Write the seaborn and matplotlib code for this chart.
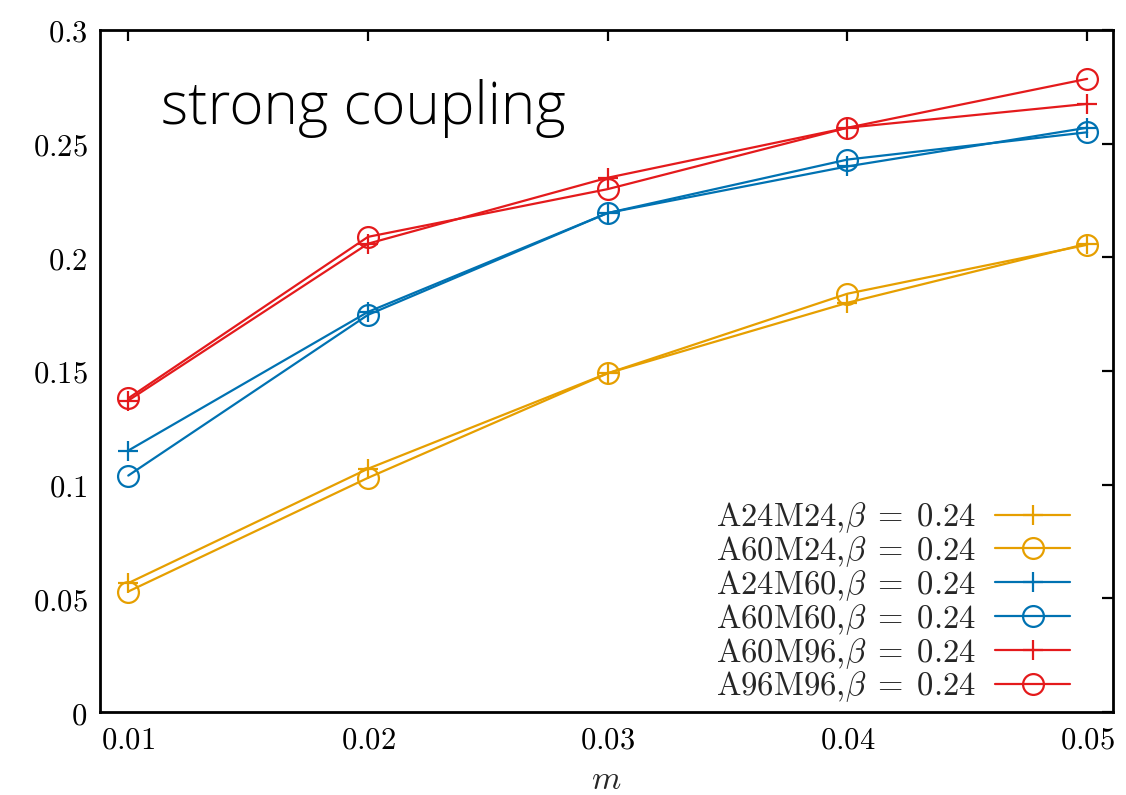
import matplotlib
matplotlib.use("Agg")
import matplotlib.pyplot as plt
import seaborn as sns
import pandas as pd
from matplotlib.ticker import FuncFormatter, FixedLocator

sns.set_theme(style="white")
plt.rcParams['mathtext.fontset'] = 'cm'
plt.rcParams['font.family'] = ['DejaVu Serif']

m_values = [0.01, 0.02, 0.03, 0.04, 0.05]
A24M24 = [0.0567, 0.107, 0.149, 0.180, 0.206]
A60M24 = [0.053, 0.103, 0.149, 0.184, 0.2055]
A24M60 = [0.115, 0.176, 0.2195, 0.240, 0.257]
A60M60 = [0.104, 0.1747, 0.2195, 0.243, 0.255]
A60M96 = [0.137, 0.206, 0.235, 0.257, 0.2675]
A96M96 = [0.138, 0.209, 0.230, 0.257, 0.2785]

series_names = ["A24M24", "A60M24", "A24M60", "A60M60", "A60M96", "A96M96"]
series_values = [A24M24, A60M24, A24M60, A60M60, A60M96, A96M96]
beta = 0.24
colors = ["#e69f00", "#e69f00", "#0072b2", "#0072b2", "#e41a1c", "#e41a1c"]
markers = ["+", "o", "+", "o", "+", "o"]

fig = plt.figure(figsize=(11.26, 7.95), dpi=100)
ax = fig.add_axes([0.0888, 0.1044, 0.8993, 0.8579])

for name, vals, c, mk in zip(series_names, series_values, colors, markers):
    df = pd.DataFrame({"m": m_values, "v": vals})
    label = r"$\mathrm{%s},\!\beta\;=\;%g$" % (name, beta)
    kw = dict(marker=mk, markersize=14 if mk == "+" else 15, markeredgewidth=1.6,
              color=c, linewidth=1.6, label=label, markeredgecolor=c)
    if mk == "o":
        kw["markerfacecolor"] = "none"
    sns.lineplot(x="m", y="v", data=df, ax=ax, **kw)

ax.set_xlim(0.00882, 0.05106)
ax.set_ylim(0, 0.3)
ax.xaxis.set_major_locator(FixedLocator(m_values))
ax.yaxis.set_major_locator(FixedLocator([0, 0.05, 0.1, 0.15, 0.2, 0.25, 0.3]))
ax.xaxis.set_major_formatter(FuncFormatter(lambda v, p: r"$%g$" % round(v, 3)))
ax.yaxis.set_major_formatter(FuncFormatter(lambda v, p: r"$%g$" % round(v, 3)))
ax.tick_params(direction="in", length=8, width=1.6, top=True, right=True,
               labelsize=22, pad=9, colors="black")
for s in ax.spines.values():
    s.set_linewidth(2)
    s.set_color("black")
ax.set_xlabel(r"$m$", fontsize=24, labelpad=6)
ax.set_ylabel("")

ax.text(0.06, 0.885, "strong coupling", transform=ax.transAxes, fontsize=42,
        family="Open Sans", fontweight="light", va="center", ha="left", color="black")

leg = ax.legend(loc="lower right", frameon=False, markerfirst=False, fontsize=23.5,
                handlelength=2.3, handletextpad=0.6, labelspacing=-0.03,
                borderaxespad=0.0, bbox_to_anchor=(0.971, -0.008))

fig.savefig("out.png", dpi=100)
